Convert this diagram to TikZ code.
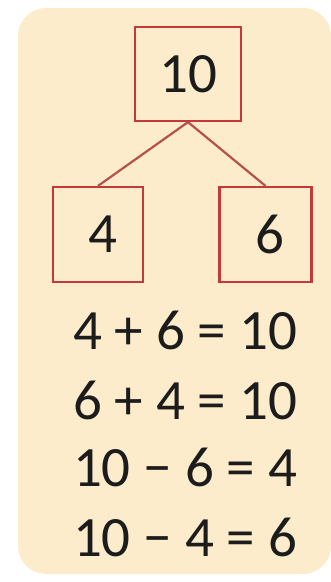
\documentclass[tikz,border=0pt]{standalone}
\usepackage{fontspec}
\setmainfont{Carlito}
\usepackage{tikz}
\usetikzlibrary{positioning}
\definecolor{peach}{RGB}{253, 236, 204}
\definecolor{boxred}{RGB}{196, 58, 58}
\definecolor{linered}{RGB}{180, 82, 74}
\definecolor{digit}{RGB}{28, 28, 28}
\tikzstyle{numbox} = [rectangle, draw=boxred, line width=2.2pt, text=digit, font=\fontsize{57}{60}\selectfont, inner sep=0pt]
\tikzstyle{fact} = [text=digit, font=\fontsize{57}{60}\selectfont, inner sep=0pt]
\tikzstyle{branch} = [draw=linered, line width=2.2pt]

\begin{document}
\begin{tikzpicture}[x=1pt, y=-1pt, node distance=70pt]
        \useasboundingbox (0,0) rectangle (331,582);
        \fill [peach, rounded corners=28pt] (18,8) rectangle (331,574);

        \node (whole) [numbox, minimum width=106pt, minimum height=94pt] at (188,74) {10};
        \node (partA) [numbox, minimum width=90pt, minimum height=95pt] at (98,234.5) {\hspace{10pt}4};
        \node (partB) [numbox, minimum width=92pt, minimum height=95pt] at (265.5,234.5) {\hspace{8pt}6};

        \draw [branch] (whole.south) -- (partA.north);
        \draw [branch] (whole.south) -- (partB.north);

        \node (sumA) [fact] at (185,330) {4 + 6 = 10};
        \node (sumB) [fact, below=of sumA.center, anchor=center] {6 + 4 = 10};
        \node (diffA) [fact, below=67pt of sumB.center, anchor=center] {10 − 6 = 4};
        \node (diffB) [fact, below=of diffA.center, anchor=center] {10 − 4 = 6};
    \end{tikzpicture}
\end{document}
